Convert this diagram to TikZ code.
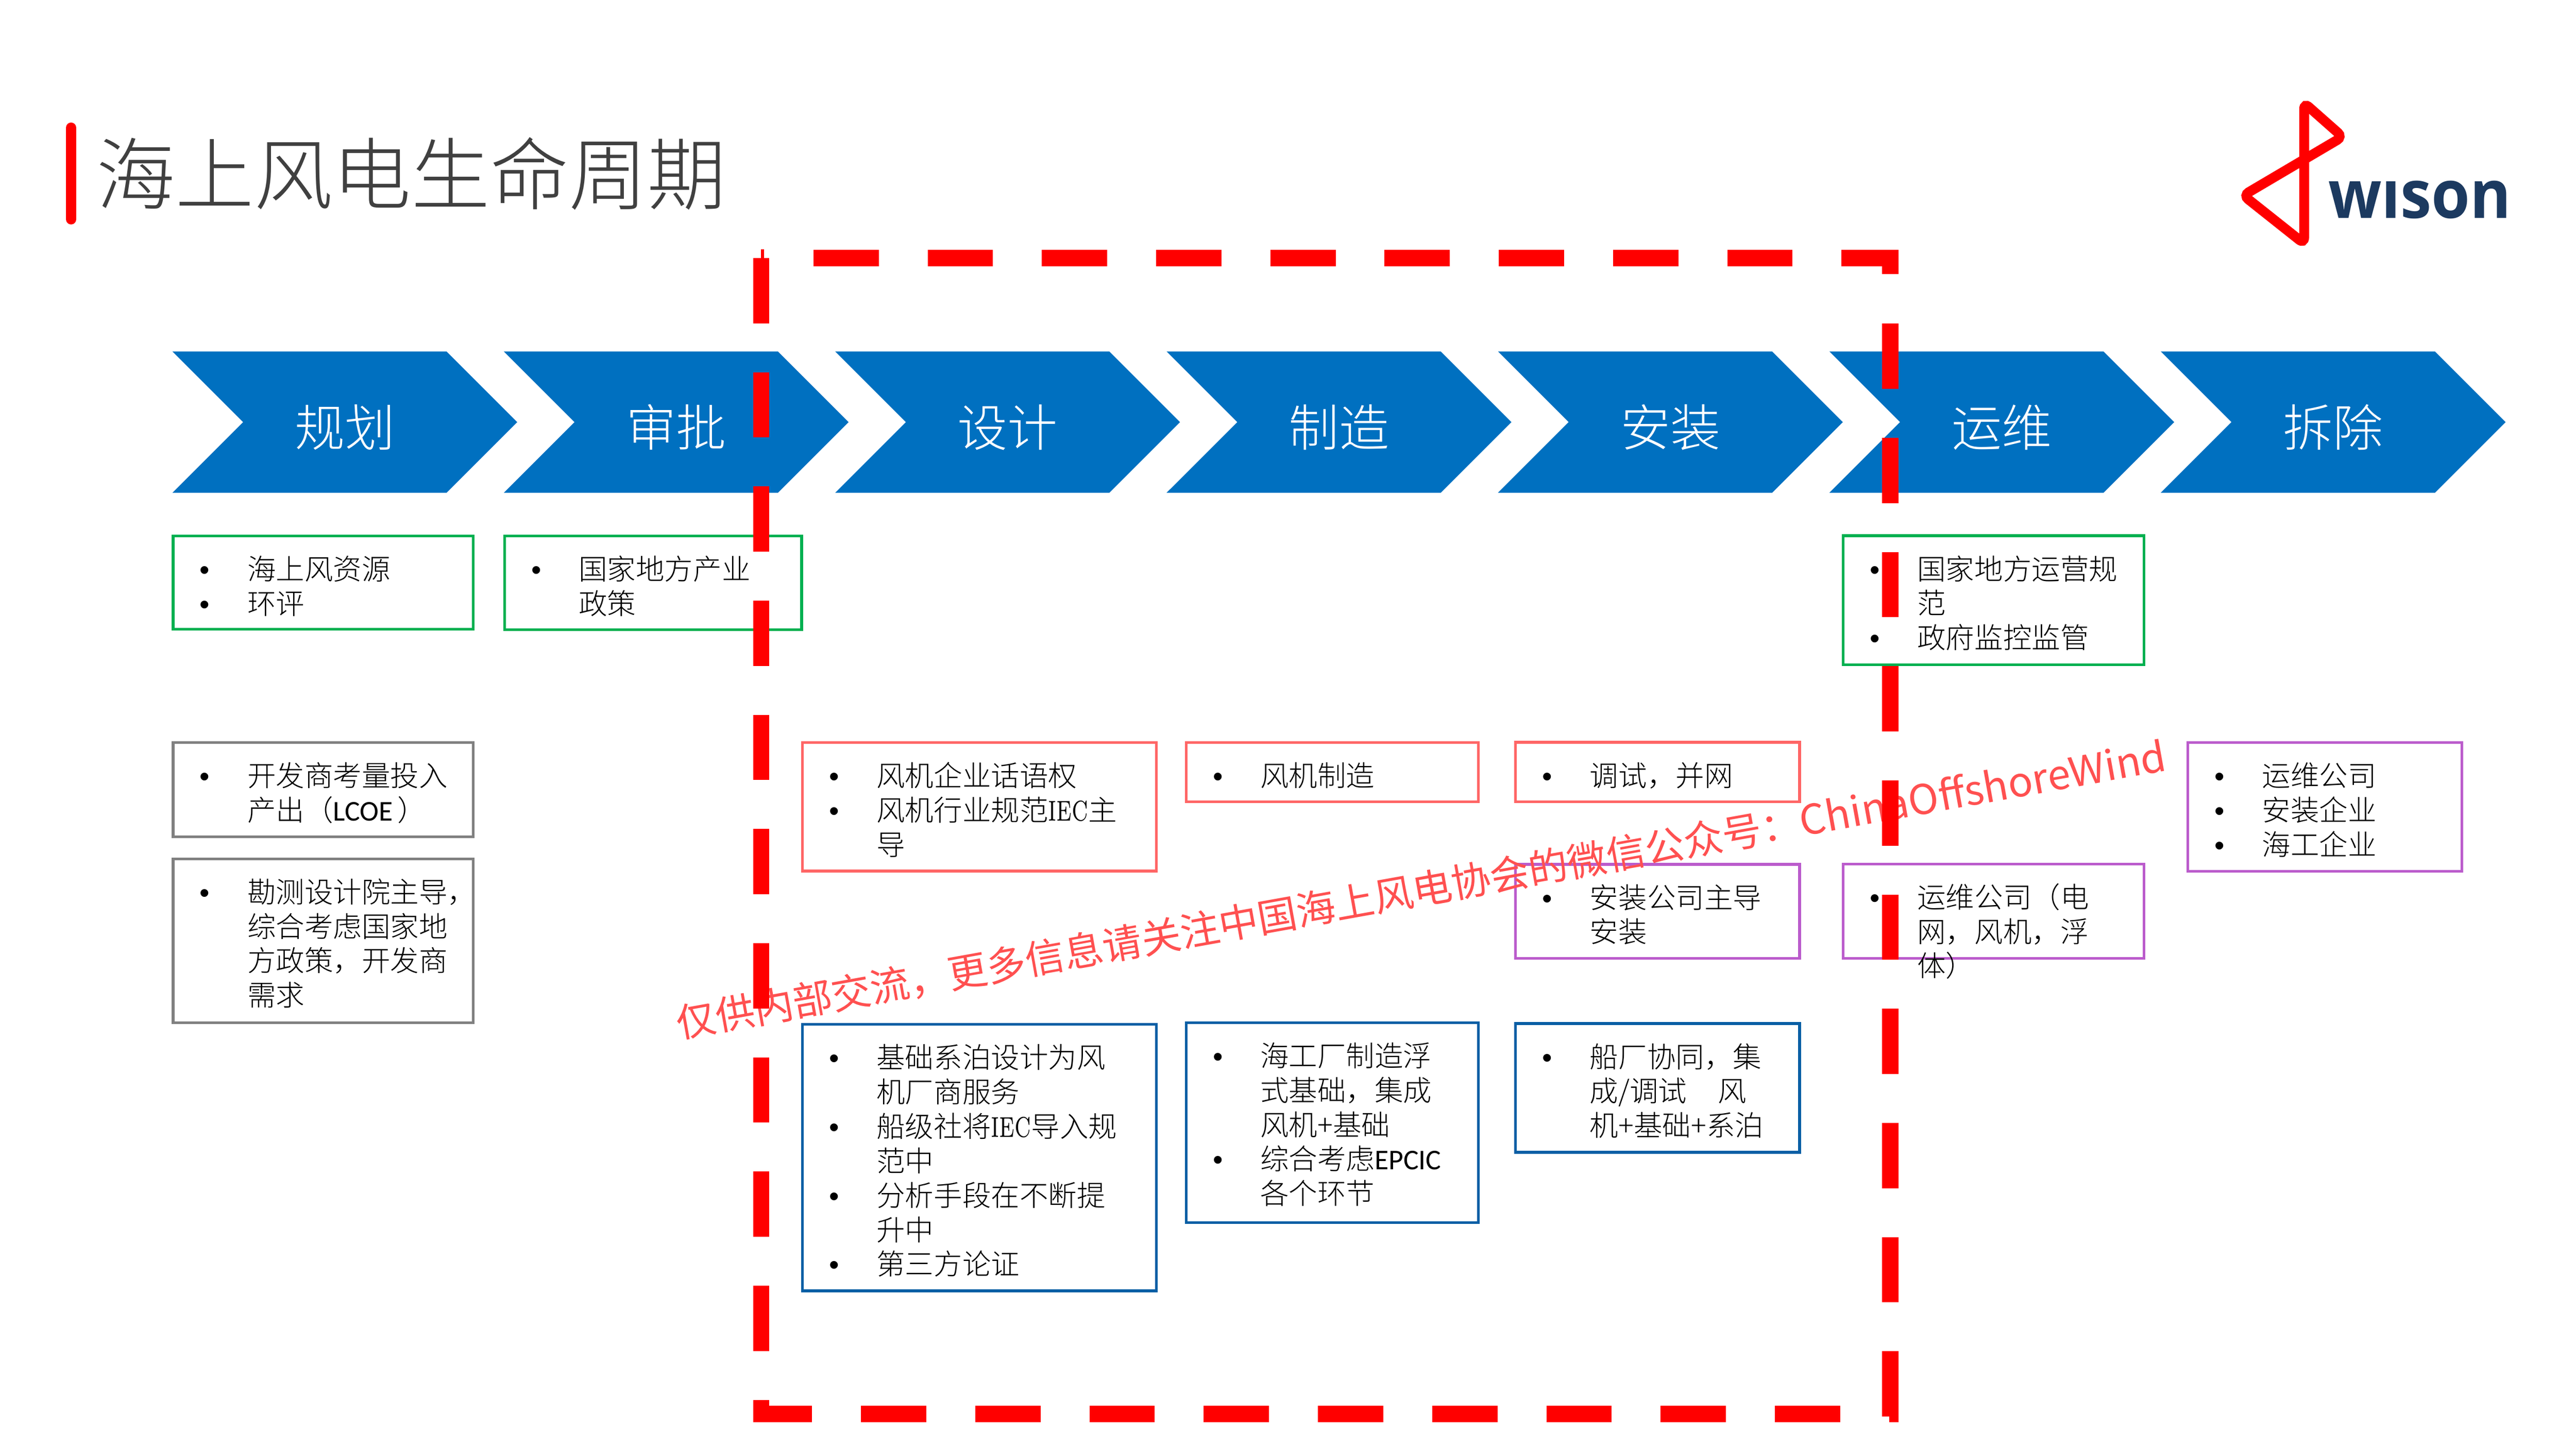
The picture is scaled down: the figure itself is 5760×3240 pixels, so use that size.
\documentclass[tikz,border=0pt]{standalone}
\usepackage{fontspec}
\usetikzlibrary{shapes.symbols}
\setmainfont{Noto Sans CJK SC Light}
\newfontfamily\cjkreg{Noto Sans CJK SC}
\newfontfamily\logofont{Open Sans}[BoldFont={Open Sans Bold}]
\newfontfamily\iecfont{Latin Modern Roman}
\newfontfamily\calfont{Carlito}
\newfontfamily\bltfont{Liberation Sans}
\newcommand{\blt}{\rule{0pt}{6pt}\makebox[0pt][r]{\makebox[0pt][c]{\bltfont •}\hspace{9.5pt}}}
\newcommand{\iec}{\scalebox{0.66}[1]{\iecfont IEC}}
\definecolor{arrowblue}{HTML}{0070C0}
\definecolor{boxgreen}{HTML}{00B050}
\definecolor{boxgray}{HTML}{808080}
\definecolor{boxred}{HTML}{FF6666}
\definecolor{boxpurple}{HTML}{BB5CCC}
\definecolor{boxblue}{HTML}{0A5FA5}
\definecolor{titlegray}{HTML}{404040}
\definecolor{logonavy}{HTML}{1C3A60}
\definecolor{markred}{HTML}{FF5050}
\tikzset{
	stage/.style={signal, signal from=west, signal to=east, signal pointer angle=90, fill=arrowblue, text=white, inner sep=0pt, outer sep=0pt, minimum width=77.1pt, minimum height=31.6pt, anchor=center, text height=10.8pt, text depth=0pt, font=\fontsize{11.2}{13}\selectfont},
	box/.style={draw=#1, line width=0.6pt, anchor=north west, inner sep=0pt, outer sep=0pt},
	items/.style={anchor=north west, inner sep=0pt, align=left, font=\fontsize{6.4}{7.7}\selectfont},
	border/.style={red, line width=3.65pt, dash pattern=on 14.6pt off 10.94pt},
}
\begin{document}
\begin{tikzpicture}[x=0.1pt, y=-0.1pt]
	\useasboundingbox (0,0) rectangle (5760,3240);
	% title and logo
	\draw[red, line width=2.4pt, line cap=round] (159,286) -- (159,490);
	\node[anchor=west, inner sep=0pt, text=titlegray, font=\fontsize{17.6}{20}\selectfont] (title) at (214,389) {海上风电生命周期};
	\draw[red, line width=2.2pt, rounded corners=1.4pt] (5152,230) -- (5238,306) -- (5016,437) -- (5152,545) -- cycle;
	\node[anchor=base west, inner sep=0pt, text=logonavy, font=\fontsize{15}{15}\logofont\bfseries, xscale=0.93] (logo) at (5204,488) {wıson};

	% stages
	\node[stage] (plan) at (771,944) {规划};
	\node[stage] (approve) at (1512,944) {审批};
	\node[stage] (design) at (2253,944) {设计};
	\node[stage] (make) at (2994,944) {制造};
	\node[stage] (install) at (3735,944) {安装};
	\node[stage] (operate) at (4476,944) {运维};
	\node[stage] (remove) at (5217,944) {拆除};

	% boxes
	\node[box=boxgreen, minimum width=67.15pt, minimum height=20.8pt] (planA) at (387,1199) {};
	\node[items] (planAtext) at ([shift={(164,36)}]planA.north west) {\blt 海上风资源\\\blt 环评};
	\node[box=boxgray, minimum width=67.15pt, minimum height=21pt] (planB) at (387,1661) {};
	\node[items] (planBtext) at ([shift={(164,36)}]planB.north west) {\blt 开发商考量投入\\产出（{\calfont LCOE}\,）};
	\node[box=boxgray, minimum width=67.15pt, minimum height=36.65pt] (planC) at (387,1920.5) {};
	\node[items] (planCtext) at ([shift={(164,36)}]planC.north west) {\blt 勘测设计院主导，\\综合考虑国家地\\方政策，开发商\\需求};
	\node[box=boxgreen, minimum width=66.45pt, minimum height=20.9pt] (approveA) at (1128,1199) {};
	\node[items] (approveAtext) at ([shift={(164,36)}]approveA.north west) {\blt 国家地方产业\\政策};
	\node[box=boxred, minimum width=79.2pt, minimum height=28.7pt] (designA) at (1794,1661) {};
	\node[items] (designAtext) at ([shift={(164,36)}]designA.north west) {\blt 风机企业话语权\\\blt 风机行业规范\iec 主\\导};
	\node[box=boxblue, minimum width=79.2pt, minimum height=59.6pt] (designB) at (1794,2291) {};
	\node[items] (designBtext) at ([shift={(164,36)}]designB.north west) {\blt 基础系泊设计为风\\机厂商服务\\\blt 船级社将\iec 导入规\\范中\\\blt 分析手段在不断提\\升中\\\blt 第三方论证};
	\node[box=boxred, minimum width=65.4pt, minimum height=13.2pt] (makeA) at (2652,1661) {};
	\node[items] (makeAtext) at ([shift={(164,36)}]makeA.north west) {\blt 风机制造};
	\node[box=boxblue, minimum width=65.4pt, minimum height=44.7pt] (makeB) at (2652,2287) {};
	\node[items] (makeBtext) at ([shift={(164,36)}]makeB.north west) {\blt 海工厂制造浮\\式基础，集成\\风机+基础\\\blt 综合考虑{\calfont EPCIC}\\各个环节};
	\node[box=boxred, minimum width=63.5pt, minimum height=13.3pt] (installA) at (3389,1660) {};
	\node[items] (installAtext) at ([shift={(164,36)}]installA.north west) {\blt 调试，并网};
	\node[box=boxpurple, minimum width=63.5pt, minimum height=21pt] (installB) at (3389,1933) {};
	\node[items] (installBtext) at ([shift={(164,36)}]installB.north west) {\blt 安装公司主导\\安装};
	\node[box=boxblue, minimum width=63.5pt, minimum height=28.8pt] (installC) at (3389,2289) {};
	\node[items] (installCtext) at ([shift={(164,36)}]installC.north west) {\blt 船厂协同，集\\成/调试\hspace{6.9pt}风\\机+基础+系泊};
	\node[box=boxgreen, minimum width=67.3pt, minimum height=28.9pt] (operateA) at (4121,1198) {};
	\node[items] (operateAtext) at ([shift={(164,36)}]operateA.north west) {\blt 国家地方运营规\\范\\\blt 政府监控监管};
	\node[box=boxpurple, minimum width=67.3pt, minimum height=21.1pt] (operateB) at (4121,1932) {};
	\node[items] (operateBtext) at ([shift={(164,36)}]operateB.north west) {\blt 运维公司（电\\网，风机，浮\\体）};
	\node[box=boxpurple, minimum width=61.3pt, minimum height=28.8pt] (removeA) at (4892,1661) {};
	\node[items] (removeAtext) at ([shift={(164,36)}]removeA.north west) {\blt 运维公司\\\blt 安装企业\\\blt 海工企业};

	% watermark
	\node[rotate=10.2, inner sep=0pt, text=markred, font=\fontsize{8.8}{10}\cjkreg] (mark) at (3178,1990) {仅供内部交流，更多信息请关注中国海上风电协会的微信公众号：{\fontsize{9.17}{10}\selectfont ChinaOffshoreWind}};

	% dashed frame
	\draw[red, line width=0.7pt] (1705,558) -- (1705,577);
	\draw[border] (1702,577) -- (1702,3181);
	\draw[border] (4227,559) -- (4227,613);
	\draw[border] (4227,723.6) -- (4227,3170);
	\draw[border] (1819,577.5) -- (4245,577.5);
	\draw[border, dash phase=1.4pt] (1684,3162.5) -- (4245,3162.5);
\end{tikzpicture}
\end{document}
